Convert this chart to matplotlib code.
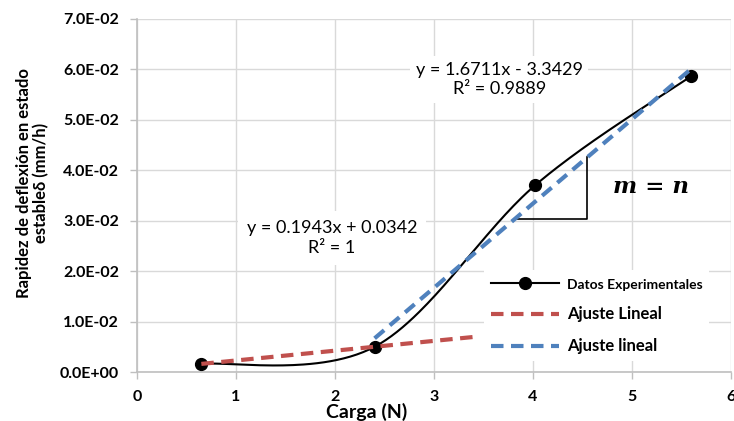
import numpy as np
import matplotlib
matplotlib.use("Agg")
import matplotlib.pyplot as plt
from matplotlib.lines import Line2D
from matplotlib.ticker import FuncFormatter

plt.rcParams['font.family'] = ['Lato', 'DejaVu Sans']

# ---- data ----
carga = [0.65, 2.40, 4.02, 5.60]
rapidez = [0.0016, 0.0050, 0.0370, 0.0587]

# trendline 1 (first two points), coefficients in units of 1e-2
fit1_coef = [0.1943, 0.0342]
fit1_range = [0.65, 3.40]
fit1_label = "y = 0.1943x + 0.0342\nR² = 1"
# trendline 2 (last three points)
fit2_coef = [1.6711, -3.3429]
fit2_range = [2.40, 5.60]
fit2_label = "y = 1.6711x - 3.3429\nR² = 0.9889"

legend_labels = ["Datos Experimentales", "Ajuste Lineal", "Ajuste lineal"]
x_ticks = [0, 1, 2, 3, 4, 5, 6]
y_ticks = [0.0, 0.01, 0.02, 0.03, 0.04, 0.05, 0.06, 0.07]

# triangle (slope marker) corners in data units
tri_x = [3.84, 4.55, 4.55]
tri_y = [0.0304, 0.0304, 0.0427]

RED = '#C0504D'
BLUE = '#4F81BD'
GRID = '#D9D9D9'


def excel_smooth(xs, ys, n=60):
    P = np.column_stack([xs, ys]).astype(float)
    out = []
    for i in range(len(P) - 1):
        p0 = P[i - 1] if i > 0 else P[i]
        p1 = P[i]
        p2 = P[i + 1]
        p3 = P[i + 2] if i + 2 < len(P) else P[i + 1]
        c1 = p1 + (p2 - p0) / 6.0
        c2 = p2 - (p3 - p1) / 6.0
        t = np.linspace(0, 1, n)[:, None]
        seg = ((1 - t) ** 3) * p1 + 3 * ((1 - t) ** 2) * t * c1 + 3 * (1 - t) * t ** 2 * c2 + t ** 3 * p2
        out.append(seg if i == 0 else seg[1:])
    out = np.vstack(out)
    return out[:, 0], out[:, 1]


fig = plt.figure(figsize=(7.34, 4.21), dpi=100)
ax = fig.add_axes([137 / 734, 1 - 372 / 421, (731 - 137) / 734, (372 - 19) / 421])

ax.set_xlim(0, 6)
ax.set_ylim(0, 0.07)
ax.set_xticks(x_ticks)
ax.set_yticks(y_ticks)
ax.yaxis.set_major_formatter(FuncFormatter(lambda v, p: f"{v:.1E}"))
ax.grid(True, color=GRID, lw=1.0)
ax.set_axisbelow(True)
for s in ['top', 'right']:
    ax.spines[s].set_visible(False)
for s in ['left', 'bottom']:
    ax.spines[s].set_color('#BFBFBF')
    ax.spines[s].set_linewidth(1.2)
ax.tick_params(axis='both', colors='#BFBFBF', length=5, width=1, labelcolor='black',
               labelsize=11.5, pad=8)
for lab in ax.get_xticklabels() + ax.get_yticklabels():
    lab.set_fontweight('bold')

# smoothed experimental curve
sx, sy = excel_smooth(carga, rapidez)
ax.plot(sx, sy, color='black', lw=1.5, zorder=3)
ax.plot(carga, rapidez, 'o', color='black', ms=8.5, zorder=4)

# trendlines
xr1 = np.array(fit1_range)
ax.plot(xr1, (fit1_coef[0] * xr1 + fit1_coef[1]) / 100, color=RED, lw=3, dashes=(3, 1.8), zorder=5)
xr2 = np.array(fit2_range)
ax.plot(xr2, (fit2_coef[0] * xr2 + fit2_coef[1]) / 100, color=BLUE, lw=3, dashes=(3, 1.8), zorder=5)

# slope triangle
ax.plot(tri_x, tri_y, color='black', lw=1.2, zorder=3)
ax.text(5.19, 0.0367, "m = n", fontsize=16.5, fontweight='bold', fontstyle='italic',
        family='DejaVu Serif', ha='center', va='center')

# equation labels
ax.text(3.66, 0.0580, fit2_label, ha='center', va='center', fontsize=13, linespacing=1.3,
        bbox=dict(boxstyle='square,pad=0.3', facecolor='white', edgecolor='none'), zorder=6)
ax.text(1.97, 0.0266, fit1_label, ha='center', va='center', fontsize=13, linespacing=1.3,
        bbox=dict(boxstyle='square,pad=0.5', facecolor='white', edgecolor='none'), zorder=6)

ax.set_xlabel("Carga (N)", fontsize=14, fontweight='bold')
ax.xaxis.set_label_coords(0.386, -0.088)
ax.set_ylabel("Rapidez de deflexión en estado\nestableδ (mm/h)", fontsize=12, fontweight='bold',
              linespacing=1.05)
ax.yaxis.set_label_coords(-0.148, 0.535)

handles = [
    Line2D([], [], color='black', lw=1.5, marker='o', ms=8.5),
    Line2D([], [], color=RED, lw=3, dashes=(3, 1.8)),
    Line2D([], [], color=BLUE, lw=3, dashes=(3, 1.8)),
]
leg = fig.legend(handles, legend_labels, loc='upper left', bbox_to_anchor=(476 / 734, 1 - 262 / 421),
                 fontsize=12, frameon=True, fancybox=False, framealpha=1, edgecolor='none',
                 handlelength=4.1, handletextpad=0.45, labelspacing=0.95, borderpad=0.4)
for i, t in enumerate(leg.get_texts()):
    t.set_fontweight('bold')
    if i == 0:
        t.set_fontsize(10)

fig.savefig("out.png", dpi=100)
